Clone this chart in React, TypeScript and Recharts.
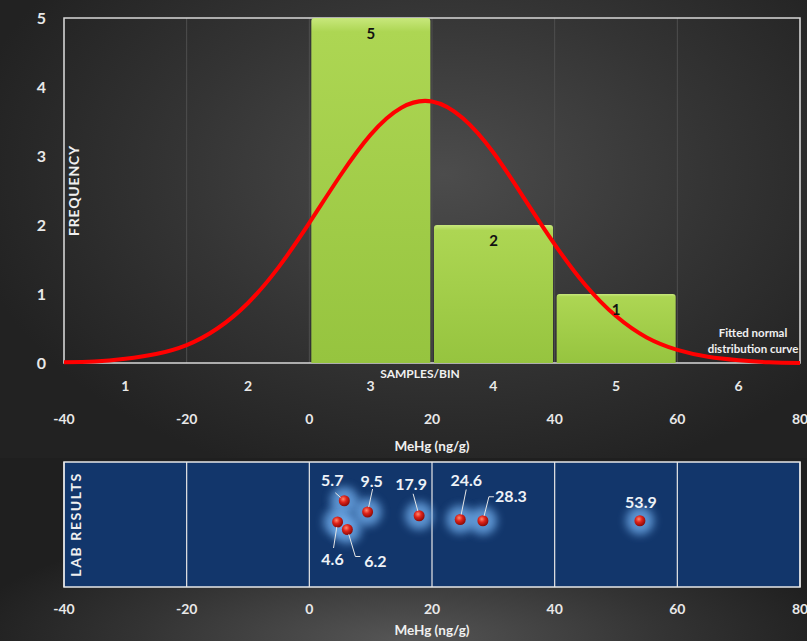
import React from 'react'
import {
  ComposedChart,
  Bar,
  Line,
  Scatter,
  XAxis,
  YAxis,
  CartesianGrid,
  ReferenceArea,
  LabelList,
} from 'recharts'

const BINS = ['1', '2', '3', '4', '5', '6']
const FREQUENCY = [0, 0, 5, 2, 1, 0]
const FREQ_TICKS = [0, 1, 2, 3, 4, 5]
const MEHG_TICKS = [-40, -20, 0, 20, 40, 60, 80]

// fitted curve, every 5 ng/g
const CURVE_X = [-40, -35, -30, -25, -20, -15, -10, -5, 0, 5, 10, 15, 20, 25, 30, 35, 40, 45, 50, 55, 60, 65, 70, 75, 80]
const CURVE_Y = [0.01, 0.02, 0.06, 0.13, 0.26, 0.5, 0.87, 1.39, 2.03, 2.71, 3.31, 3.7, 3.79, 3.55, 3.05, 2.39, 1.72, 1.13, 0.68, 0.37, 0.19, 0.09, 0.04, 0.01, 0.0]

const LAB_VALUES = [4.6, 5.7, 6.2, 9.5, 17.9, 24.6, 28.3, 53.9]
const LAB_ROWS = [5.2, 6.9, 4.6, 6.0, 5.7, 5.4, 5.3, 5.3]

const histData = BINS.map((bin, i) => ({ bin, freq: FREQUENCY[i] }))
const curveData = CURVE_X.map((x, i) => ({ x, y: CURVE_Y[i] }))
const labData = LAB_VALUES.map((x, i) => ({ x, y: LAB_ROWS[i] }))

// label placement around each lab point: [labelDx, labelDy, leader end dx, dy, dash dx]
const LABEL_OFFSETS: Record<string, number[]> = {
  '4.6': [-5, 36, -4, 26, 0],
  '5.7': [-12, -21, -9, -8, 0],
  '6.2': [28, 31, 8, 27, 5],
  '9.5': [4, -32, 5, -23, 0],
  '17.9': [-8, -32, -6, -22, 0],
  '24.6': [6, -40, 6, -30, 0],
  '28.3': [28, -25, 6, -24, 5],
  '53.9': [1, -19, 0, 0, 0],
}

const FONT = "Lato, 'Open Sans', sans-serif"
const TICK = { fill: '#e8e8e8', fontSize: 14, fontWeight: 700 }

const GlowDot = (props: any) => (
  <circle cx={props.cx} cy={props.cy} r={14} fill="#74b2f2" opacity={0.75} filter="url(#glow)" />
)

const LabDot = (props: any) => {
  const { cx, cy, payload } = props
  const key = payload.x.toFixed(1)
  const [lx, ly, ex, ey, dash] = LABEL_OFFSETS[key] || [0, -20, 0, 0, 0]
  const len = Math.hypot(ex, ey)
  const sx = len ? cx + (ex / len) * 5 : cx
  const sy = len ? cy + (ey / len) * 5 : cy
  return (
    <g>
      <circle cx={cx} cy={cy} r={5.5} fill="url(#redBall)" />
      {len > 0 && (
        <line x1={sx} y1={sy} x2={cx + ex} y2={cy + ey} stroke="#e6e6e6" strokeWidth={1} />
      )}
      {dash > 0 && (
        <line x1={cx + ex} y1={cy + ey} x2={cx + ex + dash} y2={cy + ey} stroke="#e6e6e6" strokeWidth={1} />
      )}
      <text
        x={cx + lx}
        y={cy + ly}
        textAnchor="middle"
        dominantBaseline="central"
        fill="#eef2f7"
        fontSize={16}
        fontWeight={700}
      >
        {key}
      </text>
    </g>
  )
}

const SideLabel = (text: string, dx: number, size: number, spacing: number) => (p: any) => {
  const vb = p.viewBox
  const x = vb.x + vb.width + dx
  const y = vb.y + vb.height / 2
  return (
    <text
      x={x}
      y={y}
      transform={`rotate(-90 ${x} ${y})`}
      textAnchor="middle"
      dominantBaseline="central"
      fill="#f0f0f0"
      fontSize={size}
      fontWeight={700}
      letterSpacing={spacing}
    >
      {text}
    </text>
  )
}

export default function App() {
  return (
    <div
      style={{
        position: 'absolute',
        left: 0,
        top: 0,
        width: 807,
        height: 641,
        fontFamily: FONT,
        background: '#1e1e1e',
        overflow: 'hidden',
      }}
    >
      <div
        style={{
          position: 'absolute',
          left: 0,
          top: 0,
          width: 807,
          height: 458,
          background: 'radial-gradient(ellipse 60% 70% at 55% 38%, #4c4c4c 0%, #343434 55%, #222 100%)',
        }}
      >
        <ComposedChart
          width={807}
          height={458}
          data={histData}
          margin={{ top: 18, right: 7, left: 0, bottom: 0 }}
          barCategoryGap={2}
        >
          <defs>
            <linearGradient id="barFill" x1="0" y1="0" x2="0" y2="1">
              <stop offset="0%" stopColor="#c8e87c" />
              <stop offset="4%" stopColor="#add653" />
              <stop offset="100%" stopColor="#96c43f" />
            </linearGradient>
          </defs>
          <CartesianGrid xAxisId="mehg" horizontal={false} stroke="#4f4f4f" strokeWidth={1} />
          <XAxis
            xAxisId="bin"
            dataKey="bin"
            type="category"
            height={38}
            tickLine={false}
            axisLine={false}
            tickSize={0}
            tickMargin={18}
            tick={TICK}
            label={{ value: 'SAMPLES/BIN', position: 'insideTop', offset: 6, dx: -12, fill: '#f0f0f0', fontSize: 12, fontWeight: 700 }}
          />
          <XAxis
            xAxisId="mehg"
            dataKey="x"
            type="number"
            domain={[-40, 80]}
            ticks={MEHG_TICKS}
            allowDataOverflow
            height={57}
            tickLine={false}
            axisLine={false}
            tickSize={0}
            tickMargin={13}
            tick={TICK}
            label={{ value: 'MeHg (ng/g)', position: 'insideBottom', offset: 7, fill: '#f0f0f0', fontSize: 13.5, fontWeight: 700 }}
          />
          <YAxis
            type="number"
            domain={[0, 5]}
            ticks={FREQ_TICKS}
            width={64}
            tickLine={false}
            axisLine={false}
            tickSize={0}
            tickMargin={18}
            tick={{ fill: '#e8e8e8', fontSize: 16, fontWeight: 700 }}
            label={{ content: SideLabel('FREQUENCY', 9, 14, 0.8) }}
          />
          <Bar
            xAxisId="bin"
            dataKey="freq"
            fill="url(#barFill)"
            radius={[3, 3, 0, 0]}
            isAnimationActive={false}
          >
            <LabelList
              dataKey="freq"
              position="insideTop"
              offset={10}
              fill="#111"
              fontSize={15}
              fontWeight={700}
              formatter={(v: any) => (v ? v : '')}
            />
          </Bar>
          <Line
            xAxisId="mehg"
            data={curveData}
            dataKey="y"
            type="natural"
            stroke="#ff0000"
            strokeWidth={4}
            dot={false}
            isAnimationActive={false}
          />
          <ReferenceArea
            xAxisId="mehg"
            x1={-40}
            x2={80}
            y1={0}
            y2={5}
            fill="none"
            stroke="#d8d8d8"
            strokeWidth={1.5}
            ifOverflow="visible"
          />
        </ComposedChart>
        <div
          style={{
            position: 'absolute',
            left: 698,
            top: 325,
            width: 110,
            color: '#f0f0f0',
            fontSize: 11.5,
            fontWeight: 700,
            textAlign: 'center',
            lineHeight: '16px',
          }}
        >
          Fitted normal
          <br />
          distribution curve
        </div>
      </div>
      <div
        style={{
          position: 'absolute',
          left: 0,
          top: 458,
          width: 807,
          height: 183,
          background: 'radial-gradient(ellipse 55% 70% at 50% 100%, #565656 0%, #333 60%, #1f1f1f 100%)',
        }}
      >
        <ComposedChart
          width={807}
          height={183}
          data={labData}
          margin={{ top: 4, right: 7, left: 0, bottom: 0 }}
        >
          <defs>
            <filter id="glow" x="-100%" y="-100%" width="300%" height="300%">
              <feGaussianBlur stdDeviation="4" />
            </filter>
            <radialGradient id="redBall" cx="40%" cy="35%" r="65%">
              <stop offset="0%" stopColor="#ff8a70" />
              <stop offset="45%" stopColor="#e0241a" />
              <stop offset="100%" stopColor="#8c0a06" />
            </radialGradient>
          </defs>
          <CartesianGrid horizontal={false} stroke="#e8e8e8" strokeWidth={1.2} fill="#12366b" />
          <XAxis
            dataKey="x"
            type="number"
            domain={[-40, 80]}
            ticks={MEHG_TICKS}
            allowDataOverflow
            height={54}
            tickLine={false}
            axisLine={false}
            tickSize={0}
            tickMargin={17}
            tick={TICK}
            label={{ value: 'MeHg (ng/g)', position: 'insideBottom', offset: 6, fill: '#f0f0f0', fontSize: 13.5, fontWeight: 700 }}
          />
          <YAxis
            type="number"
            domain={[0, 10]}
            width={64}
            tick={false}
            tickLine={false}
            axisLine={false}
            label={{ content: SideLabel('LAB RESULTS', 11, 14, 1.6) }}
          />
          <ReferenceArea
            x1={-40}
            x2={80}
            y1={0}
            y2={10}
            fill="none"
            stroke="#e8e8e8"
            strokeWidth={1.5}
            ifOverflow="visible"
          />
          <Scatter dataKey="y" shape={GlowDot} isAnimationActive={false} />
          <Scatter dataKey="y" shape={LabDot} isAnimationActive={false} />
        </ComposedChart>
      </div>
    </div>
  )
}
